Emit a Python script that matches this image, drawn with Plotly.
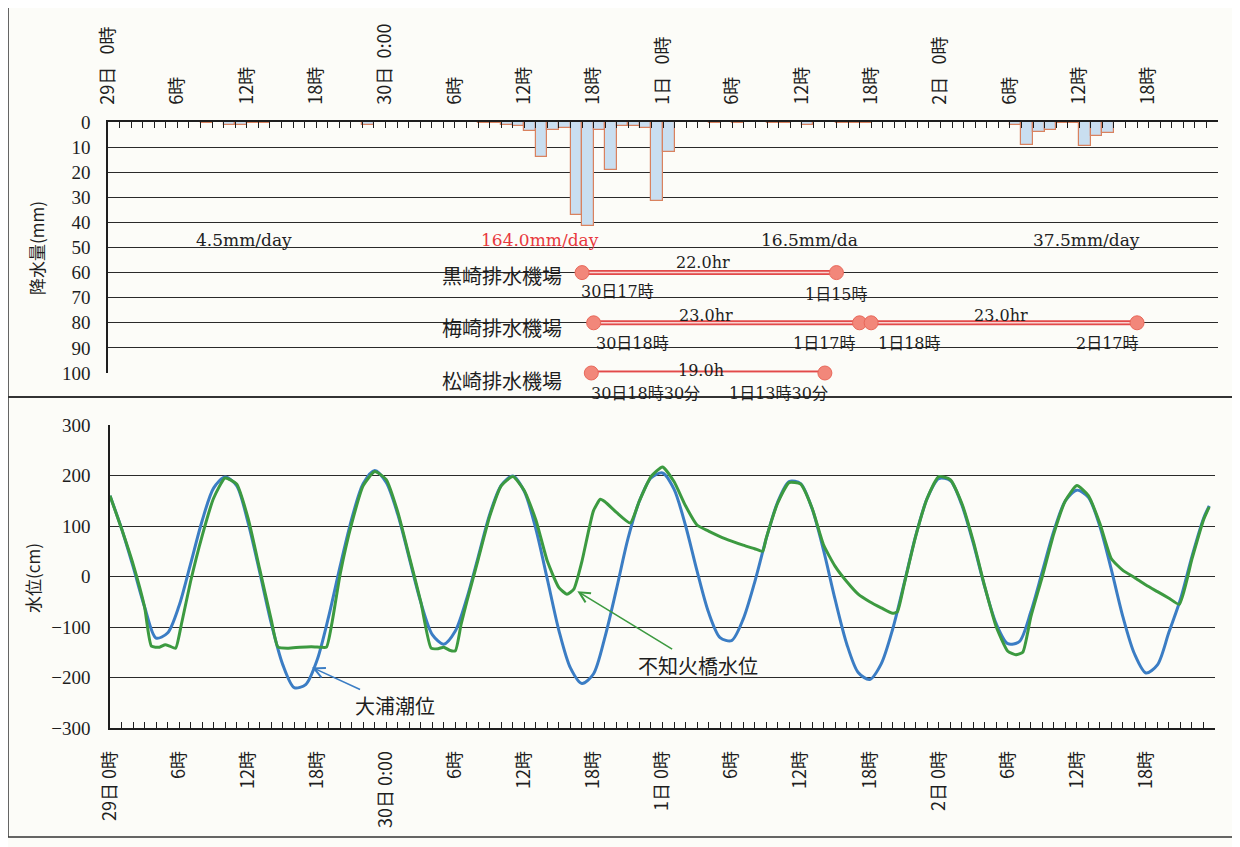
import plotly.graph_objects as go

# ---------------- data ----------------
rain_hours = list(range(96))
rain_mm = [0, 0, 0, 0, 0, 0, 0, 0, 0.5, 0, 1.0, 1.0, 0.5, 0.5, 0, 0, 0, 0, 0, 0, 0, 0, 1.0, 0,
           0, 0, 0, 0, 0, 0, 0, 0, 0.5, 0.5, 1.0, 1.5, 3.5, 14.0, 3.0, 2.5, 37.0, 41.5, 3.0, 19.0, 1.5, 1.5, 2.5, 31.5,
           12.0, 0, 0, 0, 0.5, 0, 0.5, 0, 0, 0.5, 0.5, 0, 1.0, 0, 0, 0.5, 0.5, 0.5, 0, 0, 0, 0, 0, 0,
           0, 0, 0, 0, 0, 0, 1.0, 9.0, 4.0, 3.0, 0.5, 0.5, 9.5, 5.5, 4.5, 0, 0, 0, 0, 0, 0, 0, 0, 0]

tick_hours = [0, 6, 12, 18, 24, 30, 36, 42, 48, 54, 60, 66, 72, 78, 84, 90]
tick_text_top = ["29日\u00a0\u00a0\u00a00時", "6時", "12時", "18時", "30日\u00a0\u00a00:00", "6時", "12時", "18時",
                 "1日\u00a0\u00a0\u00a00時", "6時", "12時", "18時", "2日\u00a0\u00a0\u00a00時", "6時", "12時", "18時"]
tick_text_bottom = ["29日\u00a00時", "6時", "12時", "18時", "30日\u00a00:00", "6時", "12時", "18時",
                    "1日\u00a00時", "6時", "12時", "18時", "2日\u00a00時", "6時", "12時", "18時"]

tide_hours = list(range(96)) + [95.5]
tide_cm = [160, 95, 20, -60, -122, -112, -58, 25, 110, 175, 197, 180, 106, 9, -92, -174, -220, -214, -165, -79,
           21, 114, 184, 210, 186, 123, 36, -51, -115, -134, -108, -43, 40, 124, 181, 199, 168, 94, -6, -107,
           -181, -212, -193, -120, -25, 75, 150, 195, 205, 173, 101, 11, -71, -121, -127, -85, -12, 74, 147, 188,
           184, 134, 51, -46, -133, -190, -204, -173, -104, -13, 81, 155, 194, 190, 142, 66, -21, -94, -133, -129,
           -70, 10, 90, 150, 171, 157, 99, 13, -80, -153, -191, -175, -110, -45, 40, 115, 140]

river_hours = [0, 1, 2, 3, 3.6, 4.3, 4.8, 5.2, 5.7, 6.2, 7, 8, 9, 10, 11, 12, 13, 14, 14.6, 15.5, 16.5, 17.5,
               18.3, 18.8, 19.3, 20, 21, 22, 23, 24, 25, 26, 27, 27.9, 28.5, 29, 29.5, 30, 30.5, 31, 32, 33,
               34, 35, 36, 37, 38, 39, 39.7, 40.3, 41, 42, 42.6, 43, 44, 45.2, 46, 47, 48, 49, 50, 51, 52, 53,
               54, 55, 56, 56.7, 57, 58, 59, 60, 61, 62, 63, 64, 65, 66, 67, 68, 68.4, 69, 70, 71, 72, 73, 74,
               75, 76, 77, 78, 78.7, 79.3, 80, 81, 82, 83, 84, 85, 86, 87, 88, 89, 90, 91, 92, 92.9, 94, 95, 95.5]
river_cm = [160, 95, 25, -60, -138, -140, -135, -138, -142, -95, -10, 80, 155, 195, 183, 115, 15, -85, -140, -142,
            -140, -139, -140, -140, -90, 5, 105, 180, 208, 192, 128, 40, -50, -142, -143, -140, -146, -147, -95,
            -50, 35, 120, 180, 198, 170, 112, 30, -22, -35, -25, 30, 130, 153, 148, 127, 106, 150, 198, 217, 188,
            140, 102, 90, 79, 70, 62, 55, 50, 75, 145, 186, 183, 135, 62, 20, -10, -35, -50, -62, -73, -70, -15,
            80, 155, 198, 192, 145, 70, -20, -100, -148, -155, -150, -80, 0, 85, 150, 180, 160, 105, 35, 12, -2,
            -17, -30, -43, -55, 35, 112, 138]

rain_day_hours = [11.8, 37.4, 60.7, 84.6]
rain_day_text = ["4.5mm/day", "164.0mm/day", "16.5mm/da", "37.5mm/day"]
rain_day_color = ["#222222", "#e8383d", "#222222", "#222222"]

station_names = ["黒崎排水機場", "梅崎排水機場", "松崎排水機場"]
station_label_level = [61, 81.7, 102.8]
pump_start = [41, 42, 66, 41.8]
pump_end = [63, 65, 89, 62]
pump_level = [60, 80, 80, 100]
pump_hours_text = ["22.0hr", "23.0hr", "23.0hr", "19.0h"]
pump_hours_pos = [(51.5, 56), (51.7, 77), (77.2, 77), (51.3, 99.0)]
pump_start_text = ["30日17時", "30日18時", "1日18時", "30日18時30分"]
pump_start_pos = [(44.1, 67.5), (45.4, 88.3), (69.3, 88.3), (46.5, 108.3)]
pump_end_text = ["1日15時", "1日17時", "2日17時", "1日13時30分"]
pump_end_pos = [(63.0, 68.7), (62.0, 88.3), (86.4, 88.3), (58.0, 108.3)]

# ---------------- figure ----------------
W, H = 1240, 847
OFF = 8  # the page body margin shifts the figure by this many pixels
CJK = "Noto Sans CJK JP"
SERIF = "Liberation Serif"
DSERIF = "DejaVu Serif, Noto Sans CJK JP"
INK = "#1e1e1e"
BG = "#fcfcf8"
RAIN_MAX = 100.0


def px_x(p):
    return (p - OFF) / W


def px_y(p):
    return 1 - (p - OFF) / H


def rain_dom(v):
    # position on the (reversed) rainfall axis expressed as a fraction of its domain
    return 1 - v / RAIN_MAX


fig = go.Figure()

# rainfall bars (top panel)
fig.add_trace(go.Bar(
    x=[h + 0.5 for h in rain_hours], y=rain_mm, width=1.0,
    marker=dict(color="#c9def0", line=dict(color="#d9825f", width=1.2)),
    xaxis="x", yaxis="y", hoverinfo="skip", showlegend=False))

# pump operation lines
for s, e, lv in zip(pump_start, pump_end, pump_level):
    fig.add_trace(go.Scatter(x=[s, e], y=[lv, lv], mode="lines",
                             line=dict(color="#e24a4a", width=5), xaxis="x", yaxis="y",
                             cliponaxis=False, hoverinfo="skip", showlegend=False))
    fig.add_trace(go.Scatter(x=[s, e], y=[lv, lv], mode="lines",
                             line=dict(color="#f9d3d0", width=1.5), xaxis="x", yaxis="y",
                             cliponaxis=False, hoverinfo="skip", showlegend=False))
    fig.add_trace(go.Scatter(x=[s, e], y=[lv, lv], mode="markers",
                             marker=dict(color="#f2877a", size=14, line=dict(color="#e8685a", width=1)),
                             xaxis="x", yaxis="y", cliponaxis=False, hoverinfo="skip", showlegend=False))

# water level lines (bottom panel)
fig.add_trace(go.Scatter(x=tide_hours, y=tide_cm, mode="lines", name="大浦潮位",
                         line=dict(color="#3b7dc4", width=3, shape="spline", smoothing=0.8),
                         xaxis="x2", yaxis="y2", showlegend=False))
fig.add_trace(go.Scatter(x=river_hours, y=river_cm, mode="lines", name="不知火橋水位",
                         line=dict(color="#3c9a40", width=3, shape="spline", smoothing=0.5),
                         xaxis="x2", yaxis="y2", showlegend=False))

ann = []
common_anchor = dict(yanchor="middle")
for h, t, c in zip(rain_day_hours, rain_day_text, rain_day_color):
    ann.append(dict(x=h, y=rain_dom(47), xref="x", yref="y domain", text=t, showarrow=False,
                    xanchor="center", font=dict(family=DSERIF, size=17, color=c), **common_anchor))
for name, lv in zip(station_names, station_label_level):
    ann.append(dict(x=39.4, y=rain_dom(lv), xref="x", yref="y domain", text=name, showarrow=False,
                    xanchor="right", font=dict(family=CJK, size=20, color=INK), **common_anchor))
for t, (h, v) in zip(pump_hours_text, pump_hours_pos):
    ann.append(dict(x=h, y=rain_dom(v), xref="x", yref="y domain", text=t, showarrow=False,
                    xanchor="center", font=dict(family=DSERIF, size=16, color=INK), **common_anchor))
for t, (h, v) in zip(pump_start_text, pump_start_pos):
    ann.append(dict(x=h, y=rain_dom(v), xref="x", yref="y domain", text=t, showarrow=False,
                    xanchor="center", font=dict(family=DSERIF, size=16, color=INK), **common_anchor))
for t, (h, v) in zip(pump_end_text, pump_end_pos):
    ann.append(dict(x=h, y=rain_dom(v), xref="x", yref="y domain", text=t, showarrow=False,
                    xanchor="center", font=dict(family=DSERIF, size=16, color=INK), **common_anchor))

ann.append(dict(x=17.55, y=-180, xref="x2", yref="y2", text="大浦潮位", showarrow=True,
                ax=83, ay=38, arrowhead=5, arrowsize=1.3, arrowwidth=1.6, arrowcolor="#3b7dc4",
                font=dict(family=CJK, size=20, color=INK)))
ann.append(dict(x=40.6, y=-29, xref="x2", yref="y2", text="不知火橋水位", showarrow=True,
                ax=121, ay=74, arrowhead=5, arrowsize=1.3, arrowwidth=1.6, arrowcolor="#3c9a40",
                font=dict(family=CJK, size=20, color=INK)))

ann.append(dict(x=px_x(36), y=px_y(248), xref="paper", yref="paper", text="降水量(mm)",
                xanchor="center", yanchor="middle",
                textangle=-90, showarrow=False, font=dict(family=CJK, size=17, color=INK)))
ann.append(dict(x=px_x(32), y=px_y(578), xref="paper", yref="paper", text="水位(cm)",
                xanchor="center", yanchor="middle",
                textangle=-90, showarrow=False, font=dict(family=CJK, size=17, color=INK)))

shapes = [
    dict(type="rect", xref="paper", yref="paper", x0=px_x(8), x1=px_x(1233), y0=px_y(837), y1=px_y(6),
         line=dict(color="#333333", width=1.5)),
    dict(type="line", xref="paper", yref="paper", x0=px_x(8), x1=px_x(1233), y0=px_y(397), y1=px_y(397),
         line=dict(color="#333333", width=2)),
]

xcommon = dict(range=[0, 96], tickmode="array", tickvals=tick_hours, tickangle=-90,
               ticks="inside", ticklen=6, tickcolor=INK, showline=True, linecolor=INK, linewidth=1.5,
               showgrid=False, zeroline=False, automargin=False,
               tickfont=dict(family=CJK, size=18, color=INK),
               minor=dict(tickmode="array", tickvals=list(range(97)), ticks="inside", ticklen=6,
                          tickcolor=INK, showgrid=False))

fig.update_layout(
    width=W, height=H, margin=dict(l=0, r=0, t=0, b=0, pad=0, autoexpand=False),
    paper_bgcolor=BG, plot_bgcolor=BG, bargap=0, showlegend=False,
    xaxis=dict(domain=[px_x(108), px_x(1218)], anchor="y", side="top", ticklabelstandoff=12,
               ticktext=tick_text_top, **xcommon),
    xaxis2=dict(domain=[px_x(110), px_x(1215)], anchor="y2", side="bottom", ticklabelstandoff=14,
                ticktext=tick_text_bottom, **xcommon),
    yaxis=dict(domain=[px_y(373), px_y(122)], anchor="x", range=[RAIN_MAX, 0], tickmode="linear", tick0=0,
               dtick=10, showgrid=True, gridcolor="#2a2a2a", gridwidth=1.3, zeroline=False, showline=True,
               linecolor=INK, linewidth=1.5, ticks="", ticklabelstandoff=12, automargin=False,
               tickfont=dict(family=SERIF, size=19, color=INK)),
    yaxis2=dict(domain=[px_y(728), px_y(425)], anchor="x2", range=[-300, 300], tickmode="linear", tick0=-300,
                dtick=100, showgrid=True, gridcolor="#2a2a2a", gridwidth=1.3, zeroline=False, showline=True,
                linecolor=INK, linewidth=1.5, ticks="", ticklabelstandoff=14, automargin=False,
                tickfont=dict(family=SERIF, size=19, color=INK)),
    annotations=ann, shapes=shapes,
)

fig.write_html("out.html", config={"displayModeBar": False})
